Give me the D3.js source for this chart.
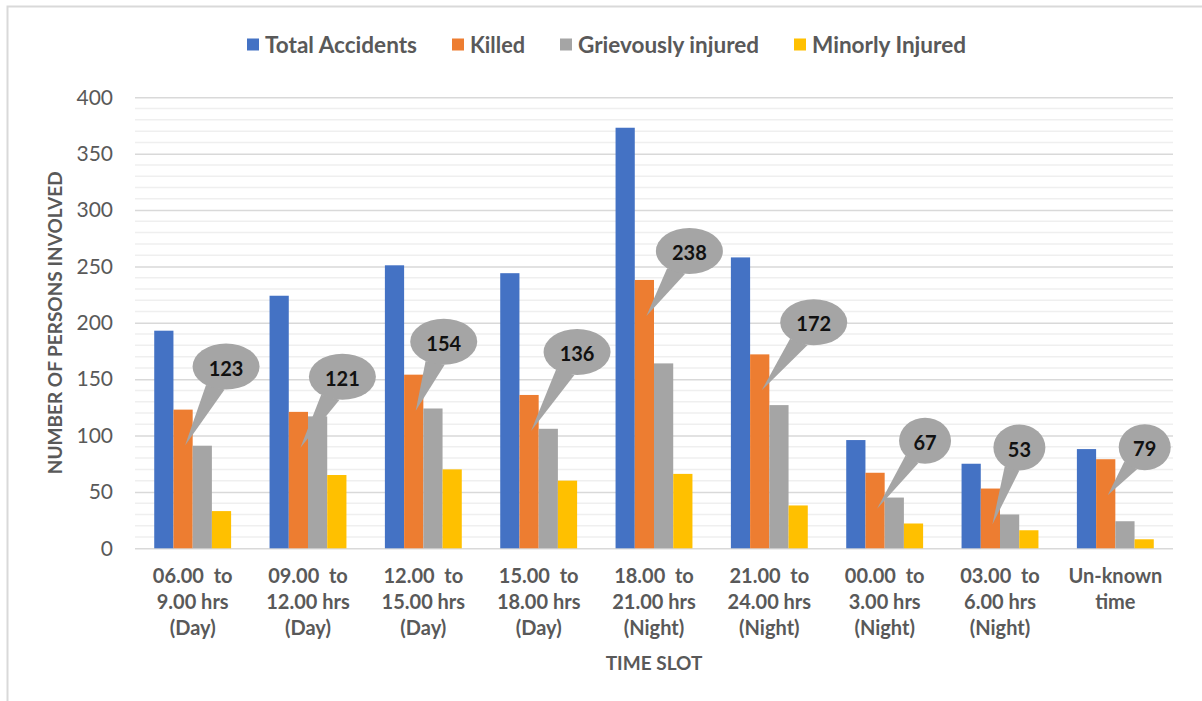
<!DOCTYPE html>
<html>
<head>
<meta charset="utf-8">
<script src="https://cdn.jsdelivr.net/npm/d3@7/dist/d3.min.js"></script>
<style>
  body { margin: 0; background: #fff; }
  svg text { font-family: Lato, "Open Sans", sans-serif; fill: #595959; }
</style>
</head>
<body>
<svg id="chart" width="1202" height="701"></svg>
<script>
// time slots, one line of the axis label per entry
const slots = [
  ["06.00  to", "9.00 hrs", "(Day)"],
  ["09.00  to", "12.00 hrs", "(Day)"],
  ["12.00  to", "15.00 hrs", "(Day)"],
  ["15.00  to", "18.00 hrs", "(Day)"],
  ["18.00  to", "21.00 hrs", "(Night)"],
  ["21.00  to", "24.00 hrs", "(Night)"],
  ["00.00  to", "3.00 hrs", "(Night)"],
  ["03.00  to", "6.00 hrs", "(Night)"],
  ["Un-known", "time"]
];
const seriesNames = ["Total Accidents", "Killed", "Grievously injured", "Minorly Injured"];
const totalAccidents = [193, 224, 251, 244, 373, 258, 96, 75, 88];
const killed = [123, 121, 154, 136, 238, 172, 67, 53, 79];
const grievouslyInjured = [91, 117, 124, 106, 164, 127, 45, 30, 24];
const minorlyInjured = [33, 65, 70, 60, 66, 38, 22, 16, 8];
const yTicks = [0, 50, 100, 150, 200, 250, 300, 350, 400];

const colors = ["#4472C4", "#ED7D31", "#A5A5A5", "#FFC000"];
// where each callout bubble sits, relative to the top of its "Killed" bar (px)
const calloutShift = [[43, -43], [44, -35], [30, -33], [48, -43], [45, -29], [54, -32], [50, -32], [29, -41], [39, -12]];
// legend label widths (the original font is narrower than what is installed)
const legendWidths = [152, 55, 181, 154];

const series = [totalAccidents, killed, grievouslyInjured, minorlyInjured];
const svg = d3.select("#chart");

const plotLeft = 135, plotRight = 1173, plotTop = 97.3, plotBottom = 548.3;

// chart frame
svg.append("rect")
  .attr("x", 7.5).attr("y", 6.5)
  .attr("width", 1300).attr("height", 800)
  .attr("fill", "none").attr("stroke", "#d9d9d9").attr("stroke-width", 2);

const x0 = d3.scaleBand()
  .domain(d3.range(slots.length))
  .range([plotLeft, plotRight])
  .paddingInner(1 / 3)
  .paddingOuter(1 / 6);

const x1 = d3.scaleBand()
  .domain(d3.range(series.length))
  .range([0, x0.bandwidth()]);

const y = d3.scaleLinear().domain([0, 400]).range([plotBottom, plotTop]);

// minor gridlines every 10
svg.append("g")
  .selectAll("line")
  .data(d3.range(10, 400, 10).filter(v => v % 50 !== 0))
  .join("line")
  .attr("x1", plotLeft).attr("x2", plotRight)
  .attr("y1", d => y(d)).attr("y2", d => y(d))
  .attr("stroke", "#efefef").attr("stroke-width", 1.5);

// major gridlines + tick labels
const yAxis = d3.axisLeft(y).tickValues(yTicks).tickSize(-(plotRight - plotLeft)).tickPadding(22);
const ga = svg.append("g").attr("transform", `translate(${plotLeft},0)`).call(yAxis);
ga.select(".domain").remove();
ga.selectAll(".tick line").attr("stroke", "#d9d9d9").attr("stroke-width", 1.5);
ga.selectAll(".tick text")
  .attr("font-size", 21)
  .attr("fill", "#595959");

// bars
const groups = svg.append("g")
  .selectAll("g")
  .data(slots.map((s, i) => i))
  .join("g")
  .attr("transform", i => `translate(${x0(i)},0)`);

groups.selectAll("rect")
  .data(i => series.map((s, k) => ({ k, v: s[i] })))
  .join("rect")
  .attr("x", d => x1(d.k))
  .attr("width", x1.bandwidth())
  .attr("y", d => y(d.v))
  .attr("height", d => y(0) - y(d.v))
  .attr("fill", d => colors[d.k]);

// x labels
const xl = svg.append("g")
  .selectAll("text")
  .data(slots)
  .join("text")
  .attr("text-anchor", "middle")
  .attr("font-size", 20)
  .attr("font-weight", "bold")
  .style("white-space", "pre")
  .attr("transform", (d, i) => `translate(${x0(i) + x0.bandwidth() / 2},0)`);
xl.selectAll("tspan")
  .data(d => d)
  .join("tspan")
  .attr("x", 0)
  .attr("y", (d, j) => 583 + j * 26)
  .text(d => d);

// axis titles
svg.append("text")
  .attr("transform", `translate(62,${(plotTop + plotBottom) / 2}) rotate(-90)`)
  .attr("text-anchor", "middle")
  .attr("font-size", 19)
  .attr("font-weight", "bold")
  .text("NUMBER OF PERSONS INVOLVED");

svg.append("text")
  .attr("x", (plotLeft + plotRight) / 2)
  .attr("y", 670)
  .attr("text-anchor", "middle")
  .attr("font-size", 19)
  .attr("font-weight", "bold")
  .text("TIME SLOT");

// callouts on the Killed series
const callouts = svg.append("g")
  .selectAll("g")
  .data(killed.map((v, i) => i))
  .join("g");

callouts.each(function (i) {
  const g = d3.select(this);
  const v = killed[i];
  const bx = x0(i) + x1(1) + x1.bandwidth() / 2;
  const by = y(v);
  const cx = bx + calloutShift[i][0], cy = by + calloutShift[i][1];
  const rx = v >= 100 ? 33.5 : 26, ry = 23;
  const tx = bx + 2, ty = by + 36;
  const a = Math.atan2((ty - cy) / ry, (tx - cx) / rx);
  const w = 0.3;
  const p1 = [cx + rx * Math.cos(a - w), cy + ry * Math.sin(a - w)];
  const p2 = [cx + rx * Math.cos(a + w), cy + ry * Math.sin(a + w)];
  g.append("path")
    .attr("d", `M${p1}L${tx},${ty}L${p2}Z`)
    .attr("fill", colors[2]);
  g.append("ellipse")
    .attr("cx", cx).attr("cy", cy).attr("rx", rx).attr("ry", ry)
    .attr("fill", colors[2]);
  g.append("text")
    .attr("x", cx).attr("y", cy + 2)
    .attr("dy", "0.35em")
    .attr("text-anchor", "middle")
    .attr("font-size", 20)
    .attr("font-weight", "bold")
    .style("fill", "#111")
    .text(v);
});

// legend, laid out left to right
const legend = svg.append("g").attr("transform", "translate(247,0)");
const items = legend.selectAll("g")
  .data(seriesNames)
  .join("g");
items.append("rect")
  .attr("width", 12).attr("height", 12)
  .attr("y", 38.5)
  .attr("fill", (d, k) => colors[k]);
items.append("text")
  .attr("x", 18)
  .attr("y", 53)
  .attr("font-size", 22)
  .attr("font-weight", "bold")
  .attr("textLength", (d, k) => legendWidths[k])
  .attr("lengthAdjust", "spacingAndGlyphs")
  .text(d => d);
let cursor = 0;
items.each(function (d, k) {
  d3.select(this).attr("transform", `translate(${cursor},0)`);
  cursor += 18 + legendWidths[k] + 35;
});
</script>
</body>
</html>
